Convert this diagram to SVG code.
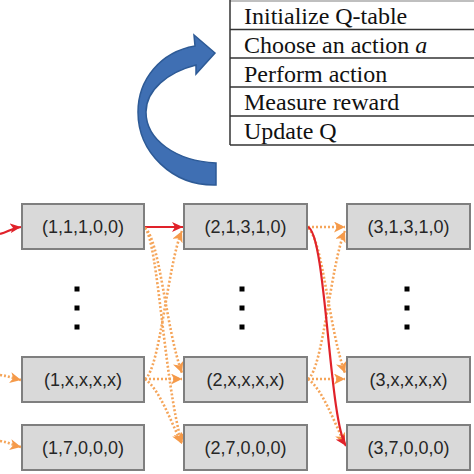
<svg xmlns="http://www.w3.org/2000/svg" width="474" height="474" viewBox="0 0 474 474">
<style>
.box{fill:#d9d9d9;stroke:#7f7f7f;stroke-width:2}
.lbl{font-family:"Liberation Sans",Arial,sans-serif;font-size:18px;fill:#262626;text-anchor:middle}
.tt{font-family:"Liberation Serif","Times New Roman",serif;font-size:24px;fill:#111}
.tl{stroke:#333;stroke-width:1.5;fill:none}
.red{stroke:#e0222a;stroke-width:2.2;fill:none}
.org{stroke:#f5a55a;stroke-width:2.6;fill:none;stroke-dasharray:2 2}
.dot{fill:#000}
</style>
<defs>
<marker id="ra" markerUnits="userSpaceOnUse" markerWidth="12" markerHeight="10" refX="11" refY="5" orient="auto">
<path d="M0,0 L11,5 L0,10 L3,5 Z" fill="#e0222a"/>
</marker>
<marker id="oa" markerUnits="userSpaceOnUse" markerWidth="12" markerHeight="11" refX="11" refY="5.5" orient="auto">
<path d="M0,0 L11,5.5 L0,11 L3,5.5 Z" fill="#f59a4a"/>
</marker>
</defs>

<g id="table">
<line x1="230" y1="1" x2="474" y2="1" stroke="#aaa" stroke-width="1.5"/>
<line class="tl" x1="230" y1="0" x2="230" y2="145"/>
<line class="tl" x1="230" y1="29.5" x2="474" y2="29.5"/>
<line class="tl" x1="230" y1="58" x2="474" y2="58"/>
<line class="tl" x1="230" y1="87" x2="474" y2="87"/>
<line class="tl" x1="230" y1="116" x2="474" y2="116"/>
<line class="tl" x1="230" y1="145" x2="474" y2="145"/>
<text class="tt" x="244" y="24">Initialize Q-table</text>
<text class="tt" x="244" y="53">Choose an action <tspan font-style="italic">a</tspan></text>
<text class="tt" x="244" y="82">Perform action</text>
<text class="tt" x="244" y="110">Measure reward</text>
<text class="tt" x="244" y="139">Update Q</text>
</g>

<g id="loop-arrow">
<path d="M216,185 C172,186 138,152 138,112 C138,80 160,52 195,46 L194,35 L215,53 L196,74 L196,65 C168,72 146,90 146,112 C146,140 176,161 216,163 Z" fill="#3f6fb3" stroke="#2d5a96" stroke-width="1.5"/>
</g>

<g id="connectors">
<path class="red" d="M0,234 C8,232 12,228 21,227" marker-end="url(#ra)"/>
<path class="org" d="M0,375 C8,376 12,378 21,380" marker-end="url(#oa)"/>
<path class="org" d="M0,441 C8,442 12,445 21,447" marker-end="url(#oa)"/>

<path class="red" d="M145,227 L183,227" marker-end="url(#ra)"/>
<path class="org" d="M145,228 C160,240 166,330 182,373" marker-end="url(#oa)"/>
<path class="org" d="M145,228 C158,242 164,380 182,444" marker-end="url(#oa)"/>
<path class="org" d="M145,379 C160,370 168,262 182,231" marker-end="url(#oa)"/>
<path class="org" d="M145,379 L182,379" marker-end="url(#oa)"/>
<path class="org" d="M145,379 C160,390 170,420 182,444" marker-end="url(#oa)"/>

<path class="org" d="M308,227 L345,227" marker-end="url(#oa)"/>
<path class="org" d="M308,228 C323,240 329,330 345,373" marker-end="url(#oa)"/>
<path class="org" d="M308,379 C323,370 331,262 345,231" marker-end="url(#oa)"/>
<path class="org" d="M308,379 L345,379" marker-end="url(#oa)"/>
<path class="org" d="M308,379 C323,390 333,420 345,444" marker-end="url(#oa)"/>
<path class="red" d="M308,227 C326,234 329,420 346,446" marker-end="url(#ra)"/>
</g>

<g id="n111">
<rect class="box" x="22" y="204" width="122" height="45"/>
<text class="lbl" x="83" y="233">(1,1,1,0,0)</text>
</g>
<g id="n213">
<rect class="box" x="184" y="204" width="123" height="45"/>
<text class="lbl" x="245.5" y="233">(2,1,3,1,0)</text>
</g>
<g id="n313">
<rect class="box" x="347" y="204" width="123" height="45"/>
<text class="lbl" x="408.5" y="233">(3,1,3,1,0)</text>
</g>
<g id="n1x">
<rect class="box" x="22" y="357" width="122" height="45"/>
<text class="lbl" x="83" y="386">(1,x,x,x,x)</text>
</g>
<g id="n2x">
<rect class="box" x="184" y="357" width="123" height="45"/>
<text class="lbl" x="245.5" y="386">(2,x,x,x,x)</text>
</g>
<g id="n3x">
<rect class="box" x="347" y="357" width="123" height="45"/>
<text class="lbl" x="408.5" y="386">(3,x,x,x,x)</text>
</g>
<g id="n17">
<rect class="box" x="22" y="425" width="122" height="45"/>
<text class="lbl" x="83" y="454">(1,7,0,0,0)</text>
</g>
<g id="n27">
<rect class="box" x="184" y="425" width="123" height="45"/>
<text class="lbl" x="245.5" y="454">(2,7,0,0,0)</text>
</g>
<g id="n37">
<rect class="box" x="347" y="425" width="123" height="45"/>
<text class="lbl" x="408.5" y="454">(3,7,0,0,0)</text>
</g>

<g id="ellipsis">
<rect class="dot" x="74.5" y="286.5" width="5" height="5"/>
<rect class="dot" x="74.5" y="305.5" width="5" height="5"/>
<rect class="dot" x="74.5" y="324.5" width="5" height="5"/>
<rect class="dot" x="239.5" y="286.5" width="5" height="5"/>
<rect class="dot" x="239.5" y="305.5" width="5" height="5"/>
<rect class="dot" x="239.5" y="324.5" width="5" height="5"/>
<rect class="dot" x="404.5" y="286.5" width="5" height="5"/>
<rect class="dot" x="404.5" y="305.5" width="5" height="5"/>
<rect class="dot" x="404.5" y="324.5" width="5" height="5"/>
</g>
</svg>
